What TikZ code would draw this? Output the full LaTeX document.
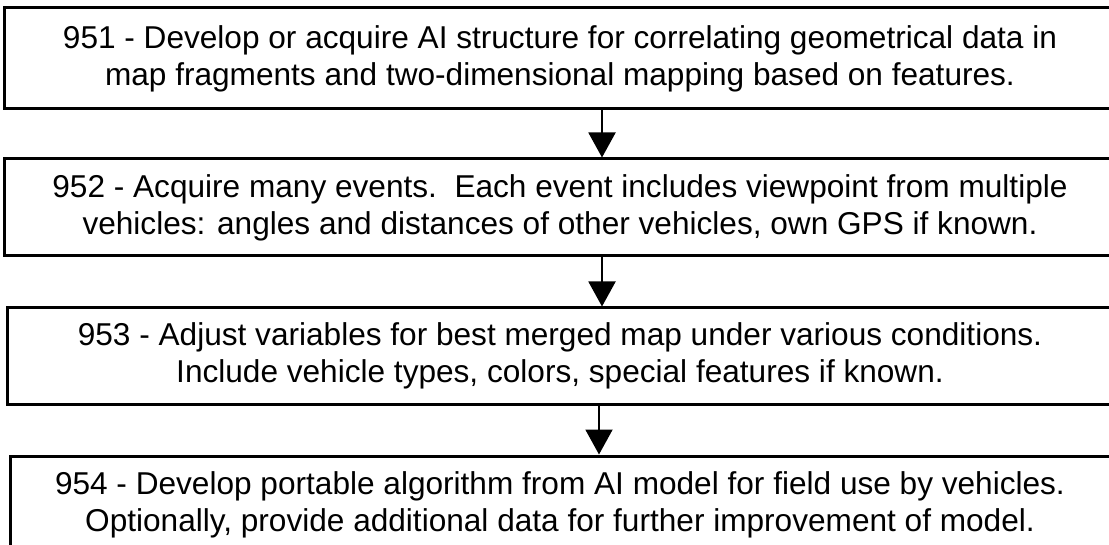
\documentclass[tikz,border=0pt]{standalone}
\usepackage{fontspec}
\setmainfont{Liberation Sans}
\usetikzlibrary{arrows.meta}
\begin{document}
\begin{tikzpicture}[x=1pt,y=-1pt,
  stepbox/.style={draw=black, line width=3pt, inner sep=0pt, align=center,
    font=\fontsize{31.6}{37}\selectfont},
  flow/.style={line width=2pt, -{Triangle[width=27pt,length=25pt]}}]
\useasboundingbox (0,0) rectangle (1109,545);
\clip (0,0) rectangle (1109,545);
\node[stepbox, minimum width=1112pt, minimum height=101pt] (b1) at (560,58.5)
  {951 - Develop or acquire AI structure for correlating geometrical data in\\
   map fragments and two-dimensional mapping based on features.};
\node[stepbox, minimum width=1112pt, minimum height=97pt] (b2) at (560,207.5)
  {952 - Acquire many events.\ \ Each event includes viewpoint from multiple\\
   vehicles: angles and distances of other vehicles, own GPS if known.};
\node[stepbox, minimum width=1106pt, minimum height=96pt] (b3) at (560,356)
  {953 - Adjust variables for best merged map under various conditions.\\
   Include vehicle types, colors, special features if known.};
\node[stepbox, minimum width=1100pt, minimum height=97pt] (b4) at (560,504.5)
  {954 - Develop portable algorithm from AI model for field use by vehicles.\\
   Optionally, provide additional data for further improvement of model.};
\coordinate (c1) at (602,0);
\coordinate (c3) at (599,0);
\draw[flow] (b1.south -| c1) -- (b2.north -| c1);
\draw[flow] (b2.south -| c1) -- (b3.north -| c1);
\draw[flow] (b3.south -| c3) -- (b4.north -| c3);
\end{tikzpicture}
\end{document}
